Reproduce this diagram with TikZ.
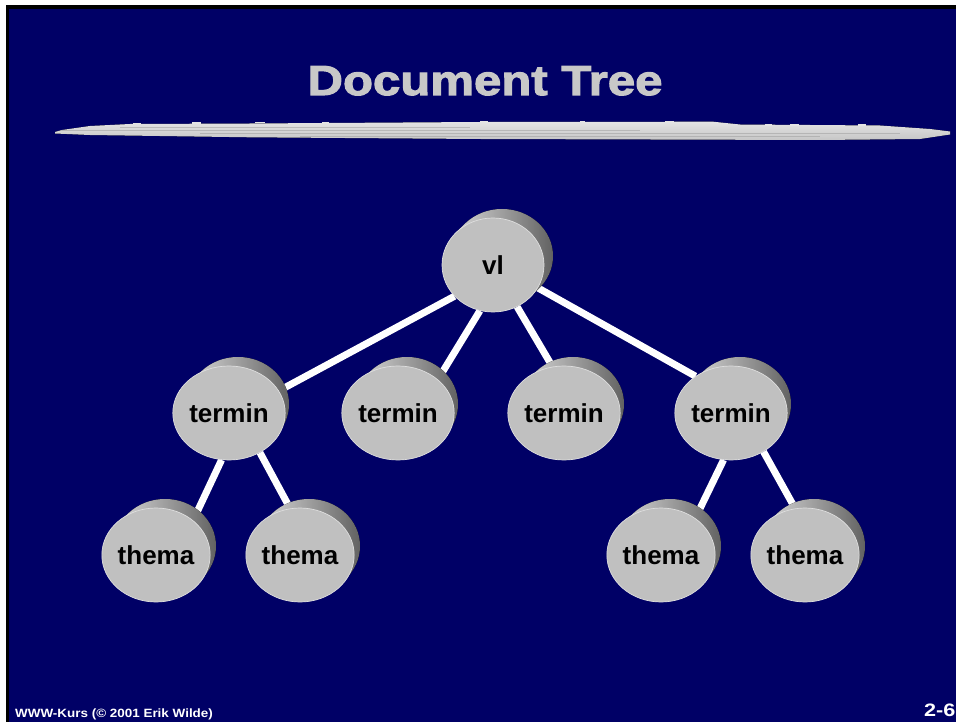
\documentclass[tikz,border=0pt]{standalone}
\usepackage{fontspec}
\setmainfont{Liberation Sans}
\newfontfamily\titlefont[FakeBold=2.6,FakeStretch=1.17]{Liberation Sans Bold}
\newfontfamily\labelfont{Liberation Sans Bold}
\newfontfamily\footfont[FakeStretch=1.12]{Liberation Sans Bold}
\newfontfamily\pagefont[FakeStretch=1.2]{Liberation Sans Bold}
\usetikzlibrary{shapes.geometric,calc}
\definecolor{slidebg}{RGB}{0,0,102}
\definecolor{diskface}{RGB}{192,192,192}
\definecolor{diskrim}{RGB}{222,222,222}
\definecolor{sidelight}{RGB}{228,228,228}
\definecolor{sidedark}{RGB}{98,98,98}
\definecolor{titlegray}{RGB}{200,200,200}
\definecolor{bannerhi}{RGB}{228,228,228}
\definecolor{bannerlo}{RGB}{198,198,198}
\pgfdeclarelayer{bg}
\pgfdeclarelayer{edges}
\pgfdeclarelayer{sides}
\pgfsetlayers{bg,edges,sides,main}
\tikzset{
  disk/.style={ellipse, fill=diskface, draw=diskrim, line width=0.7pt,
    minimum width=102pt, minimum height=94pt, inner sep=0pt,
    font=\labelfont\fontsize{26}{30}\selectfont, text=black},
  treeedge/.style={draw=white, line width=7pt},
  sidestep/.style={left color=sidelight, right color=sidedark}
}
\begin{document}
\begin{tikzpicture}[x=1pt,y=-1pt]
\useasboundingbox (0,0) rectangle (956,722);

% slide background with its frame
\begin{pgfonlayer}{bg}
  \fill[white] (0,0) rectangle (956,722);
  \fill[black] (6,5) rectangle (956,722);
  \fill[slidebg] (9,9) rectangle (956,722);
  % brush-stroke rule under the title
  \fill[top color=bannerhi, bottom color=bannerlo]
    (55,132) -- (62,130) -- (90,126) -- (130,124) -- (250,123.5)
    -- (480,122) -- (713,121.7) -- (740,124.5) -- (880,125.5)
    -- (930,129) -- (950,131.5) -- (950,134.5) -- (920,139)
    -- (820,140) -- (480,139) -- (250,137.3) -- (90,135) -- (55,133.5) -- cycle;
  % streaks inside the stroke
  \foreach \ya/\xa/\xb in {127/120/470, 130/60/640, 133/200/900, 136/300/820}
    \draw[black!22!bannerlo, line width=0.8pt, opacity=0.5] (\xa,\ya) -- (\xb,\ya);
  % ragged bits along the upper edge
  \foreach \xa/\ya/\w in {133/122.8/8, 192/122.2/9, 255/122/10, 322/121.6/7,
      480/121/8, 580/121/5, 665/120.8/9, 765/124.2/7, 790/124.2/9, 858/124.4/8}
    \fill[bannerhi] (\xa,\ya) rectangle ++(\w,1.4);
\end{pgfonlayer}

% title and footer
\node[font=\titlefont\fontsize{42}{48}\selectfont, text=titlegray,
      anchor=base, inner sep=0pt] (title) at (485,95) {Document Tree};
\node[font=\footfont\fontsize{12}{14}\selectfont, text=white,
      anchor=base west, inner sep=0pt] (footer) at (15,717.5)
      {WWW-Kurs (© 2001 Erik Wilde)};
\node[font=\pagefont\fontsize{18}{20}\selectfont, text=white,
      anchor=base east, inner sep=0pt] (pagenum) at (955.5,716) {2-6};

% tree nodes (faces of the disks)
\node[disk] (vl)  at (493,265) {vl};
\node[disk] (t1)  at (229,413) {termin};
\node[disk] (t2)  at (398,413) {termin};
\node[disk] (t3)  at (564,413) {termin};
\node[disk] (t4)  at (731,413) {termin};
\node[disk] (th1) at (156,555) {thema};
\node[disk] (th2) at (300,555) {thema};
\node[disk] (th3) at (661,555) {thema};
\node[disk] (th4) at (805,555) {thema};

% extruded sides of the disks: one shaded union of shifted ellipses
\begin{pgfonlayer}{sides}
  \foreach \n in {vl,t1,t2,t3,t4,th1,th2,th3,th4}
    \fill[sidestep]
      \foreach \i in {0.5,1,...,9} { ($(\n)+(\i,-\i)$) ellipse [x radius=51pt, y radius=47pt] };
\end{pgfonlayer}

% connectors
\begin{pgfonlayer}{edges}
  \draw[treeedge] (vl.219) -- (t1.24);
  \draw[treeedge] (vl.254) -- (t2.40);
  \draw[treeedge] (vl.300) -- (t3.104);
  \draw[treeedge] (vl.333) -- (t4.134);
  \draw[treeedge] (t1.261) -- (th1.43);
  \draw[treeedge] (t1.308) -- (th2.102);
  \draw[treeedge] (t4.261) -- (th3.47);
  \draw[treeedge] (t4.310) -- (th4.102);
\end{pgfonlayer}
\end{tikzpicture}
\end{document}
